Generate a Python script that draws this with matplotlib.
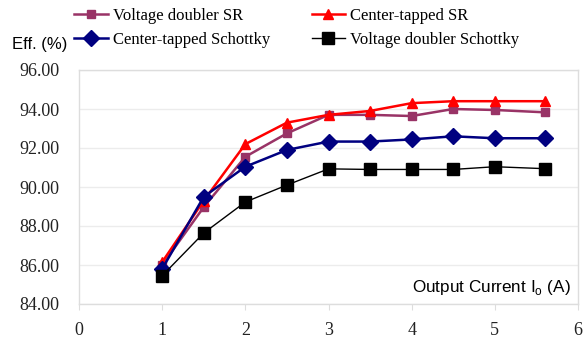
import matplotlib
matplotlib.use("Agg")
import matplotlib.pyplot as plt

current = [1, 1.5, 2, 2.5, 3, 3.5, 4, 4.5, 5, 5.6]
vd_sr = [86.0, 88.97, 91.55, 92.75, 93.7, 93.7, 93.64, 94.0, 93.95, 93.83]
ct_sr = [86.15, 89.3, 92.2, 93.3, 93.7, 93.9, 94.3, 94.4, 94.4, 94.4]
ct_sch = [85.8, 89.5, 91.04, 91.9, 92.33, 92.33, 92.44, 92.6, 92.5, 92.5]
vd_sch = [85.45, 87.64, 89.23, 90.1, 90.93, 90.9, 90.9, 90.9, 91.04, 90.94]
xticks = [0, 1, 2, 3, 4, 5, 6]
yticks = [84, 86, 88, 90, 92, 94, 96]

serif = "Liberation Serif"
sans = "Liberation Sans"

fig = plt.figure(figsize=(5.86, 3.44), dpi=100)
ax = fig.add_axes([79/586, 40/344, (578-79)/586, (304-70)/344])

ax.plot(current, vd_sr, color="#993366", marker="s", ms=6, lw=1.8, label="Voltage doubler SR")
ax.plot(current, ct_sr, color="#ff0000", marker="^", ms=7, lw=1.8, label="Center-tapped SR")
ax.plot(current, ct_sch, color="#000080", marker="D", ms=8, lw=1.8, label="Center-tapped Schottky")
ax.plot(current, vd_sch, color="#000000", marker="s", ms=8.5, lw=1.0, label="Voltage doubler Schottky")

ax.set_xlim(0, 6)
ax.set_ylim(84, 96)
ax.set_xticks(xticks)
ax.set_yticks(yticks)
ax.set_yticklabels([f"{v:.2f}" for v in yticks])
for lab in ax.get_xticklabels() + ax.get_yticklabels():
    lab.set_fontfamily(serif)
    lab.set_fontsize(13)
    lab.set_color("#222222")
ax.tick_params(axis="x", length=4, color="#dddddd", pad=9)
ax.tick_params(axis="y", length=0, pad=14)
ax.grid(axis="y", color="#ececec", lw=1)
ax.set_axisbelow(True)
for s in ax.spines.values():
    s.set_color("#dddddd")
    s.set_linewidth(1)

ax.text(0.985, 0.07, "Output Current I$_\\mathregular{o}$ (A)", transform=ax.transAxes,
        ha="right", va="center", fontfamily=sans, fontsize=12.3)
fig.text(12/586, 1 - 44/344, "Eff. (%)", ha="left", va="center", fontfamily=sans, fontsize=12)

h, l = ax.get_legend_handles_labels()
order = [0, 2, 1, 3]
fig.legend([h[i] for i in order], [l[i] for i in order], ncol=2, loc="upper left",
           bbox_to_anchor=(66/586, 1.0), frameon=False, prop={"family": serif, "size": 12},
           handlelength=2.0, handletextpad=0.3, columnspacing=2.5, labelspacing=0.45,
           borderaxespad=0.1)

fig.savefig("out.png", dpi=100)
